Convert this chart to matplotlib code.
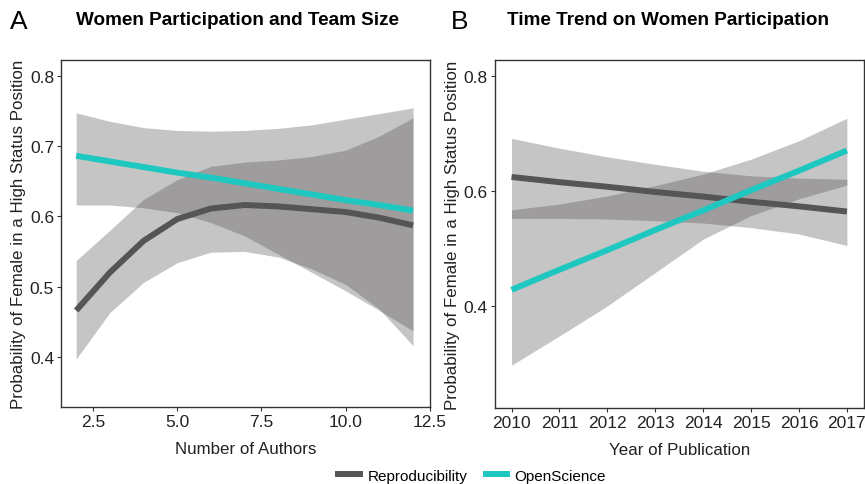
import numpy as np
import matplotlib
matplotlib.use("Agg")
import matplotlib.pyplot as plt
from matplotlib.lines import Line2D

plt.rcParams["font.family"] = ["Liberation Sans", "DejaVu Sans"]

# Panel A: team size
authors = [2, 3, 4, 5, 6, 7, 8, 9, 10, 11, 12]
repro_a = [0.466, 0.520, 0.565, 0.596, 0.611, 0.616, 0.614, 0.610, 0.606, 0.598, 0.587]
repro_a_lo = [0.397, 0.463, 0.506, 0.534, 0.549, 0.550, 0.542, 0.525, 0.503, 0.468, 0.416]
repro_a_hi = [0.537, 0.580, 0.624, 0.652, 0.671, 0.677, 0.680, 0.685, 0.694, 0.714, 0.740]
open_a = [0.686, 0.678, 0.670, 0.662, 0.655, 0.647, 0.639, 0.631, 0.623, 0.616, 0.608]
open_a_lo = [0.616, 0.616, 0.612, 0.605, 0.591, 0.572, 0.546, 0.520, 0.494, 0.466, 0.437]
open_a_hi = [0.747, 0.735, 0.726, 0.722, 0.721, 0.722, 0.725, 0.730, 0.738, 0.746, 0.754]

# Panel B: year
years = [2010, 2011, 2012, 2013, 2014, 2015, 2016, 2017]
repro_b = [0.624, 0.615, 0.607, 0.598, 0.590, 0.581, 0.573, 0.564]
repro_b_lo = [0.552, 0.552, 0.551, 0.548, 0.544, 0.536, 0.525, 0.505]
repro_b_hi = [0.691, 0.674, 0.659, 0.646, 0.634, 0.626, 0.622, 0.620]
open_b = [0.428, 0.463, 0.497, 0.532, 0.566, 0.601, 0.635, 0.670]
open_b_lo = [0.297, 0.348, 0.400, 0.458, 0.516, 0.557, 0.586, 0.610]
open_b_hi = [0.567, 0.577, 0.591, 0.609, 0.629, 0.655, 0.687, 0.726]

REPRO = "#555558"
OPEN = "#1ec8c0"
FILL = "#453f43"
ALPHA = 0.30

fig = plt.figure(figsize=(8.65, 4.85), dpi=100)
ax1 = fig.add_axes([0.0705, 0.159, 0.4265, 0.715])
ax2 = fig.add_axes([0.572, 0.157, 0.427, 0.717])

ylab = "Probability of Female in a High Status Position"


def style(ax):
    for s in ax.spines.values():
        s.set_color("#333333")
        s.set_linewidth(1.0)
    ax.tick_params(direction="out", length=3, width=0.8, color="#333333",
                   labelsize=12.5, labelcolor="#222222", pad=2)


# Panel A
ax1.fill_between(authors, repro_a_lo, repro_a_hi, color=FILL, alpha=ALPHA, lw=0)
ax1.fill_between(authors, open_a_lo, open_a_hi, color=FILL, alpha=ALPHA, lw=0)
ax1.plot(authors, repro_a, color=REPRO, lw=4.3, solid_capstyle="butt")
ax1.plot(authors, open_a, color=OPEN, lw=4.3, solid_capstyle="butt")
ax1.set_xlim(1.55, 12.5)
ax1.set_ylim(0.329, 0.822)
ax1.set_xticks([2.5, 5.0, 7.5, 10.0, 12.5])
ax1.set_xticklabels(["2.5", "5.0", "7.5", "10.0", "12.5"])
ax1.set_yticks([0.4, 0.5, 0.6, 0.7, 0.8])
ax1.set_xlabel("Number of Authors", fontsize=12.2, color="#222222", labelpad=9)
ax1.set_ylabel(ylab, fontsize=12.2, color="#222222", labelpad=3)
style(ax1)

# Panel B
ax2.fill_between(years, repro_b_lo, repro_b_hi, color=FILL, alpha=ALPHA, lw=0)
ax2.fill_between(years, open_b_lo, open_b_hi, color=FILL, alpha=ALPHA, lw=0)
ax2.plot(years, repro_b, color=REPRO, lw=4.3, solid_capstyle="butt")
ax2.plot(years, open_b, color=OPEN, lw=4.3, solid_capstyle="butt")
ax2.set_xlim(2009.65, 2017.36)
ax2.set_ylim(0.223, 0.827)
ax2.set_xticks(years)
ax2.set_yticks([0.4, 0.6, 0.8])
ax2.set_xlabel("Year of Publication", fontsize=12.2, color="#222222", labelpad=9)
ax2.set_ylabel(ylab, fontsize=12.2, color="#222222", labelpad=3)
style(ax2)

# titles and panel letters
fig.text(0.0115, 0.955, "A", fontsize=19, va="center", ha="left")
fig.text(0.274, 0.957, "Women Participation and Team Size", fontsize=13.6,
         fontweight="bold", va="center", ha="center")
fig.text(0.521, 0.955, "B", fontsize=19, va="center", ha="left")
fig.text(0.772, 0.957, "Time Trend on Women Participation", fontsize=13.6,
         fontweight="bold", va="center", ha="center")

handles = [Line2D([], [], color=REPRO, lw=4.3),
           Line2D([], [], color=OPEN, lw=4.3)]
fig.legend(handles, ["Reproducibility", "OpenScience"], loc="center",
           bbox_to_anchor=(0.546, 0.017), ncol=2, frameon=False,
           fontsize=11, handlelength=1.4, columnspacing=1.2,
           handletextpad=0.5)

fig.savefig("out.png", dpi=100)
